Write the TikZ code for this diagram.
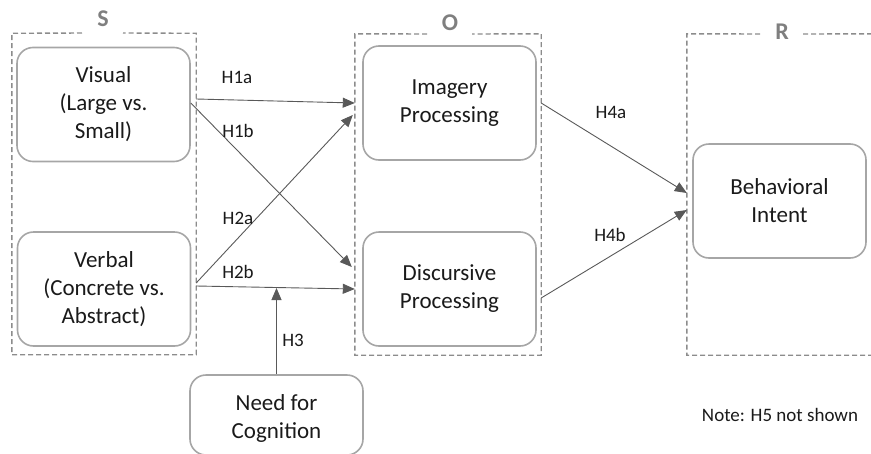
\documentclass[tikz,border=0pt]{standalone}
\usepackage{fontspec}
\setmainfont{Carlito}
\usetikzlibrary{arrows.meta}
\definecolor{boxgray}{HTML}{A6A6A6}
\definecolor{dashgray}{HTML}{8C8C8C}
\definecolor{arrowgray}{HTML}{595959}
\definecolor{txtgray}{HTML}{1A1A1A}
\definecolor{lblgray}{HTML}{7F7F7F}
\begin{document}
\begin{tikzpicture}[x=1pt,y=-1pt,
  conceptbox/.style={draw=boxgray, line width=1.6pt, rounded corners=16pt, minimum width=173pt, minimum height=114pt, align=center, text=txtgray, font=\fontsize{23}{28}\selectfont, inner sep=0pt},
  region/.style={draw=none, minimum width=#1, minimum height=321pt, inner sep=0pt},
  regionline/.style={draw=dashgray, line width=1.4pt, dash pattern=on 5pt off 3pt},
  grouplabel/.style={text=lblgray, font=\fontsize{24}{28}\selectfont\bfseries, inner sep=0pt},
  hlabel/.style={text=txtgray, font=\fontsize{19}{23}\selectfont, inner sep=0pt},
  link/.style={draw=arrowgray, line width=0.9pt, -{Triangle[length=12pt,width=10pt]}}
]
\useasboundingbox (0,0) rectangle (871,453);

% regions
\node[region=184pt] (S) at (104,194) {};
\node[region=186pt] (O) at (448,194.5) {};
\node[region=200pt] (R) at (787,194.5) {};

\draw[regionline] (82,33) -- (S.north west) -- (S.south west) -- (S.south east) -- (S.north east) -- (123,33);
\draw[regionline] (427,34) -- (O.north west) -- (O.south west) -- (O.south east) -- (O.north east) -- (472,34);
\draw[regionline] (760,34) -- (R.north west) -- (R.south west) -- (R.south east);
\draw[regionline] (803,34) -- (R.north east);

\node[grouplabel] (Slab) at (103,18.5) {S};
\node[grouplabel] (Olab) at (450,22.5) {O};
\node[grouplabel] (Rlab) at (782,32) {R};

% concept boxes
\node[conceptbox] (vis) at (103.5,104.5) {Visual\\(Large vs.\\Small)};
\node[conceptbox] (verb) at (104,289) {Verbal\\(Concrete vs.\\Abstract)};
\node[conceptbox] (img) at (449.5,103) {Imagery\\Processing};
\node[conceptbox] (disc) at (449.5,289) {Discursive\\Processing};
\node[conceptbox] (beh) at (779.5,201) {Behavioral\\Intent};
\node[conceptbox, minimum height=80pt] (nfc) at (276.5,415) {};
\node[text=txtgray, font=\fontsize{23}{28}\selectfont, align=center, inner sep=0pt] (nfctext) at (276.5,418) {Need for\\Cognition};

% connectors
\draw[link] (S.east |- 0,99) -- (O.west |- 0,103);
\draw[link] (vis.east |- 0,103) -- ([xshift=-3pt]O.west |- 0,267);
\draw[link] (S.east |- 0,283) -- ([xshift=-2pt]O.west |- 0,115);
\draw[link] (S.east |- 0,286) -- (O.west |- 0,289);
\draw[link] (nfc.north) -- (nfc.north |- 0,288);
\draw[link] (O.east |- 0,103) -- (R.west |- 0,193);
\draw[link] (O.east |- 0,298) -- (R.west |- 0,210);

% hypothesis labels
\node[hlabel] (h1a) at (237,77) {H1a};
\node[hlabel] (h1b) at (238,131) {H1b};
\node[hlabel] (h2a) at (238,218) {H2a};
\node[hlabel] (h2b) at (238,272) {H2b};
\node[hlabel] (h3) at (293,340) {H3};
\node[hlabel] (h4a) at (611,112) {H4a};
\node[hlabel] (h4b) at (610,235) {H4b};

\node[hlabel] (note) at (780,415) {Note: H5 not shown};
\end{tikzpicture}
\end{document}
